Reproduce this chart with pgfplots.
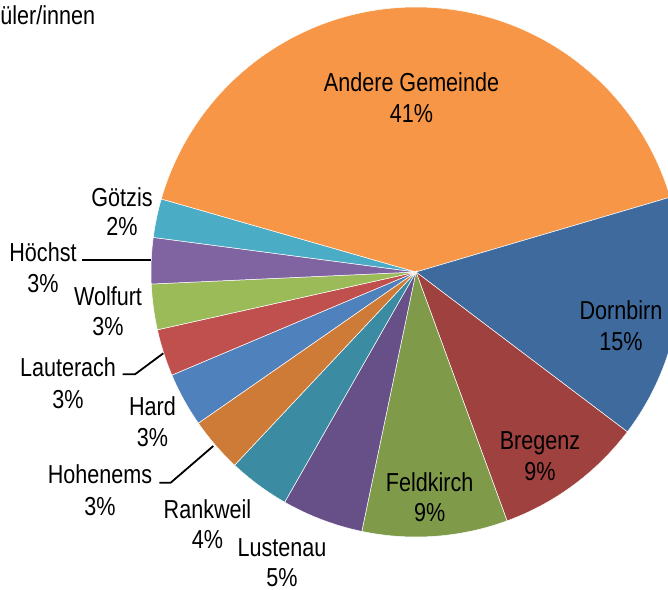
\documentclass[border=0pt]{standalone}
\usepackage{fontspec}
\setmainfont{Liberation Sans}[FakeStretch=0.83]
\usepackage{pgfplots}
\pgfplotsset{compat=1.18}
\definecolor{cHard}{HTML}{4F81BD}
\definecolor{cLauterach}{HTML}{C0504D}
\definecolor{cWolfurt}{HTML}{9BBB59}
\definecolor{cHoechst}{HTML}{8064A2}
\definecolor{cGoetzis}{HTML}{4BACC6}
\definecolor{cAndere}{HTML}{F79646}
\definecolor{cDornbirn}{HTML}{3E6A9D}
\definecolor{cBregenz}{HTML}{9E413F}
\definecolor{cFeldkirch}{HTML}{7F9B4A}
\definecolor{cLustenau}{HTML}{674F88}
\definecolor{cRankweil}{HTML}{3B8CA3}
\definecolor{cHohenems}{HTML}{CD7B37}
\tikzset{lab/.style={anchor=base, inner sep=0pt, font=\fontsize{13bp}{15bp}\selectfont}}
% slice: start angle, end angle (degrees), derived from the share of each slice
\newcommand{\slice}[3]{%
  \addplot[fill=#1, draw=white, line width=0.25bp, domain=#2:#3, samples=120]
    ({416+265*cos(x)},{272-265*sin(x)}) -- (axis cs:416,272) -- cycle;}
\begin{document}
\begin{tikzpicture}
\begin{axis}[
  x=0.5bp, y=0.5bp,
  xmin=0, xmax=668, ymin=0, ymax=590,
  y dir=reverse,
  hide axis,
  clip=true,
]
% shares (percent): Hard 3.30, Lauterach 2.86, Wolfurt 2.78, Hoechst 2.81,
% Goetzis 2.36, Andere 41.00, Dornbirn 14.86, Bregenz 9.11, Feldkirch 8.86,
% Lustenau 4.97, Rankweil 3.75, Hohenems 3.33 ; first slice starts at -145.2 deg
\slice{cHard}{-157.1}{-145.2}
\slice{cLauterach}{-167.4}{-157.1}
\slice{cWolfurt}{-177.4}{-167.4}
\slice{cHoechst}{-187.5}{-177.4}
\slice{cGoetzis}{-196.0}{-187.5}
\slice{cAndere}{-343.6}{-196.0}
\slice{cDornbirn}{-397.1}{-343.6}
\slice{cBregenz}{-429.9}{-397.1}
\slice{cFeldkirch}{-461.8}{-429.9}
\slice{cLustenau}{-479.7}{-461.8}
\slice{cRankweil}{-493.2}{-479.7}
\slice{cHohenems}{-505.2}{-493.2}
% leader lines
\addplot[black, line width=0.9bp] coordinates {(82,260) (151,260)};
\addplot[black, line width=0.9bp] coordinates {(122.7,374.3) (135,374.3) (163.3,353.3)};
\addplot[black, line width=0.9bp] coordinates {(159.3,482.7) (170.7,482.7) (213.3,446)};
% labels
\node[lab, anchor=base west] at (axis cs:0,25) {üler/innen};
\node[lab] at (axis cs:411.5,92) {Andere Gemeinde};
\node[lab] at (axis cs:411.5,122.5) {41\%};
\node[lab] at (axis cs:621,319.3) {Dornbirn};
\node[lab] at (axis cs:621,350) {15\%};
\node[lab] at (axis cs:540,449.3) {Bregenz};
\node[lab] at (axis cs:540,480) {9\%};
\node[lab] at (axis cs:429.7,491) {Feldkirch};
\node[lab] at (axis cs:429.7,521.7) {9\%};
\node[lab] at (axis cs:282,556.5) {Lustenau};
\node[lab] at (axis cs:282,586.5) {5\%};
\node[lab] at (axis cs:207.5,518.3) {Rankweil};
\node[lab] at (axis cs:207.5,548.3) {4\%};
\node[lab] at (axis cs:100,483) {Hohenems};
\node[lab] at (axis cs:100,515) {3\%};
\node[lab] at (axis cs:152.5,415) {Hard};
\node[lab] at (axis cs:152.5,446.5) {3\%};
\node[lab] at (axis cs:68,376.5) {Lauterach};
\node[lab] at (axis cs:68,408) {3\%};
\node[lab] at (axis cs:108,305) {Wolfurt};
\node[lab] at (axis cs:108,335.5) {3\%};
\node[lab] at (axis cs:43,262) {Höchst};
\node[lab] at (axis cs:43,292.5) {3\%};
\node[lab] at (axis cs:122,206) {Götzis};
\node[lab] at (axis cs:122,235.5) {2\%};
\end{axis}
\pgfresetboundingbox
\path[use as bounding box] (current axis.south west) rectangle (current axis.north east);
\end{tikzpicture}
\end{document}
